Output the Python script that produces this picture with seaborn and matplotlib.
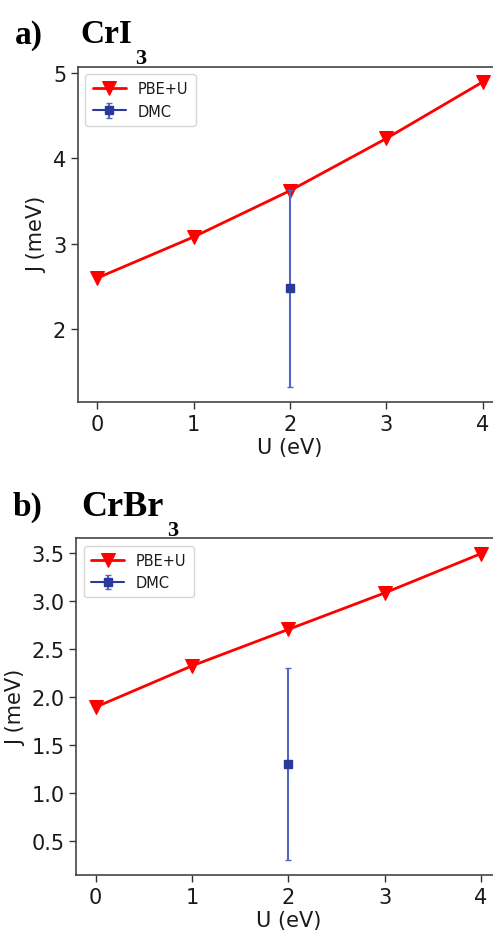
import numpy as np
import pandas as pd
import matplotlib
matplotlib.use("Agg")
import matplotlib.pyplot as plt
import seaborn as sns

# ---- data ----
U_vals = [0, 1, 2, 3, 4]
J_pbe_CrI3 = [2.60, 3.08, 3.62, 4.23, 4.89]
J_pbe_CrBr3 = [1.89, 2.32, 2.70, 3.08, 3.49]
U_dmc = [2]
J_dmc_CrI3 = [2.48]
err_dmc_CrI3 = [1.15]
J_dmc_CrBr3 = [1.30]
err_dmc_CrBr3 = [1.00]
yticks_CrI3 = [2, 3, 4, 5]
yticks_CrBr3 = [0.5, 1.0, 1.5, 2.0, 2.5, 3.0, 3.5]
panel_letters = ["a)", "b)"]
panel_names = ["CrI", "CrBr"]
panel_subs = ["3", "3"]

sns.set_style("ticks")
plt.rcParams["font.family"] = ["DejaVu Sans"]
plt.rcParams["text.color"] = "#1a1a1a"
plt.rcParams["axes.labelcolor"] = "#1a1a1a"
plt.rcParams["xtick.color"] = "#1a1a1a"
plt.rcParams["ytick.color"] = "#1a1a1a"

W, H = 493, 937
fig = plt.figure(figsize=(W / 100, H / 100), dpi=100)

axes_rects = [
    [78 / W, 1 - 403 / H, (502 - 78) / W, (403 - 67.7) / H],
    [76.3 / W, 1 - 876 / H, (500.3 - 76.3) / W, (876 - 539.3) / H],
]
pbe_sets = [J_pbe_CrI3, J_pbe_CrBr3]
dmc_sets = [(J_dmc_CrI3, err_dmc_CrI3), (J_dmc_CrBr3, err_dmc_CrBr3)]
ytick_sets = [yticks_CrI3, yticks_CrBr3]
title_y = [43.3, 515.5]  # baselines in px from top
letter_x = [15, 12.7]
name_x = [80, 81.5]
name_size = [24, 26]

red = "#ff0000"
blue_m = "#2a3a9c"
blue_e = "#5566c0"

for i in range(2):
    ax = fig.add_axes(axes_rects[i])
    df = pd.DataFrame({"U": U_vals, "J": pbe_sets[i]})
    sns.lineplot(data=df, x="U", y="J", ax=ax, color=red, marker="v",
                 markersize=10, markeredgecolor=red, markerfacecolor=red,
                 linewidth=2, label="PBE+U")
    jd, ed = dmc_sets[i]
    ax.errorbar(U_dmc, jd, yerr=ed, color=blue_m, ecolor=blue_e, marker="s",
                markersize=6, elinewidth=1.5, capsize=2, capthick=1,
                linestyle="-", linewidth=1.5, label="DMC", zorder=3)
    ax.set_xlabel("U (eV)", fontsize=15, labelpad=2)
    ax.set_ylabel("J (meV)", fontsize=15, labelpad=4)
    ax.set_xticks(U_vals)
    ax.set_yticks(ytick_sets[i])
    ax.tick_params(labelsize=15, length=5, width=1, color="#333333")
    for s in ax.spines.values():
        s.set_color("#444444")
        s.set_linewidth(1.2)
    leg = ax.legend(loc="upper left", fontsize=10.5, handlelength=2.3,
                    frameon=True, borderpad=0.5, labelspacing=0.5)
    leg.get_frame().set_edgecolor("#cccccc")

    # panel title
    yb = 1 - title_y[i] / H
    fig.text(letter_x[i] / W, yb, panel_letters[i], fontsize=24,
             fontweight="bold", family="Liberation Serif", va="baseline",
             color="black")
    t = fig.text(name_x[i] / W, yb, panel_names[i], fontsize=name_size[i],
                 fontweight="bold", family="Liberation Serif", va="baseline",
                 color="black")
    fig.canvas.draw()
    bb = t.get_window_extent()
    fig.text((bb.x1 + 3) / W, yb - 20.5 / H, panel_subs[i], fontsize=16,
             fontweight="bold", family="Liberation Serif", va="baseline",
             color="black")

fig.savefig("out.png", dpi=100)
